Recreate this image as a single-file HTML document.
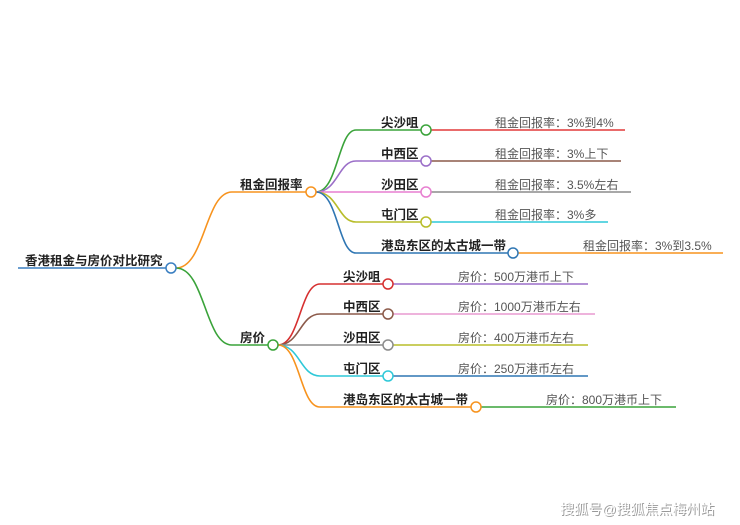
<!DOCTYPE html>
<html><head><meta charset="utf-8"><style>
html,body{margin:0;padding:0;background:#fff;width:740px;height:525px;overflow:hidden}
svg text{font-family:"Liberation Sans","Noto Sans CJK SC",sans-serif}
.b{font-size:12.5px;font-weight:bold;fill:#222}
.l{font-size:12px;fill:#555}
</style></head><body>
<svg width="740" height="525" viewBox="0 0 740 525" xmlns="http://www.w3.org/2000/svg">
<g fill="none" stroke-width="1.6">
<line x1="18" y1="268" x2="166" y2="268" stroke="#3a7fc1"/>
<path d="M176,268 C205,268 205,192 232,192 L306,192" stroke="#f7931e"/>
<path d="M176,268 C205,268 205,345 232,345 L268,345" stroke="#3aa33a"/>
<path d="M316,192 C338,192 338,130 356,130 L421,130" stroke="#3aa33a"/>
<path d="M316,192 C338,192 338,161 356,161 L421,161" stroke="#9b6fc8"/>
<path d="M316,192 L421,192" stroke="#e77fd0"/>
<path d="M316,192 C338,192 338,222 356,222 L421,222" stroke="#b8bd2a"/>
<path d="M316,192 C338,192 338,253 356,253 L508,253" stroke="#2f76b3"/>
<line x1="431" y1="130" x2="625" y2="130" stroke="#e23a3a"/>
<line x1="431" y1="161" x2="621" y2="161" stroke="#8c5a4a"/>
<line x1="431" y1="192" x2="631" y2="192" stroke="#8c8c8c"/>
<line x1="431" y1="222" x2="608" y2="222" stroke="#2ec8d8"/>
<line x1="518" y1="253" x2="723" y2="253" stroke="#f7931e"/>
<path d="M278,345 C300,345 300,284 320,284 L383,284" stroke="#d63030"/>
<path d="M278,345 C300,345 300,314 320,314 L383,314" stroke="#8c5a4a"/>
<path d="M278,345 L383,345" stroke="#8c8c8c"/>
<path d="M278,345 C300,345 300,376 320,376 L383,376" stroke="#2ec8d8"/>
<path d="M278,345 C300,345 300,407 320,407 L471,407" stroke="#f7931e"/>
<line x1="393" y1="284" x2="588" y2="284" stroke="#9b6fc8"/>
<line x1="393" y1="314" x2="595" y2="314" stroke="#e89ad0"/>
<line x1="393" y1="345" x2="588" y2="345" stroke="#b8bd2a"/>
<line x1="393" y1="376" x2="588" y2="376" stroke="#2f76b3"/>
<line x1="481" y1="407" x2="676" y2="407" stroke="#3aa33a"/>
</g>
<g fill="#fff" stroke-width="1.5">
<circle cx="171" cy="268" r="5" stroke="#3a7fc1"/>
<circle cx="311" cy="192" r="5" stroke="#f7931e"/>
<circle cx="273" cy="345" r="5" stroke="#3aa33a"/>
<circle cx="426" cy="130" r="5" stroke="#3aa33a"/>
<circle cx="426" cy="161" r="5" stroke="#9b6fc8"/>
<circle cx="426" cy="192" r="5" stroke="#e77fd0"/>
<circle cx="426" cy="222" r="5" stroke="#b8bd2a"/>
<circle cx="513" cy="253" r="5" stroke="#2f76b3"/>
<circle cx="388" cy="284" r="5" stroke="#d63030"/>
<circle cx="388" cy="314" r="5" stroke="#8c5a4a"/>
<circle cx="388" cy="345" r="5" stroke="#8c8c8c"/>
<circle cx="388" cy="376" r="5" stroke="#2ec8d8"/>
<circle cx="476" cy="407" r="5" stroke="#f7931e"/>
</g>
<text class="b" x="25" y="265">香港租金与房价对比研究</text>
<text class="b" x="240" y="189">租金回报率</text>
<text class="b" x="240" y="342">房价</text>
<text class="b" x="381" y="127">尖沙咀</text>
<text class="b" x="381" y="158">中西区</text>
<text class="b" x="381" y="189">沙田区</text>
<text class="b" x="381" y="219">屯门区</text>
<text class="b" x="381" y="250">港岛东区的太古城一带</text>
<text class="l" x="495" y="127">租金回报率：3%到4%</text>
<text class="l" x="495" y="158">租金回报率：3%上下</text>
<text class="l" x="495" y="189">租金回报率：3.5%左右</text>
<text class="l" x="495" y="219">租金回报率：3%多</text>
<text class="l" x="583" y="250">租金回报率：3%到3.5%</text>
<text class="b" x="343" y="281">尖沙咀</text>
<text class="b" x="343" y="311">中西区</text>
<text class="b" x="343" y="342">沙田区</text>
<text class="b" x="343" y="373">屯门区</text>
<text class="b" x="343" y="404">港岛东区的太古城一带</text>
<text class="l" x="458" y="281">房价：500万港币上下</text>
<text class="l" x="458" y="311">房价：1000万港币左右</text>
<text class="l" x="458" y="342">房价：400万港币左右</text>
<text class="l" x="458" y="373">房价：250万港币左右</text>
<text class="l" x="546" y="404">房价：800万港币上下</text>
<text x="561" y="515" font-size="14" fill="#999">搜狐号@搜狐焦点梅州站</text>
<text x="560" y="514" font-size="14" fill="#fff">搜狐号@搜狐焦点梅州站</text>
</svg>
</body></html>
